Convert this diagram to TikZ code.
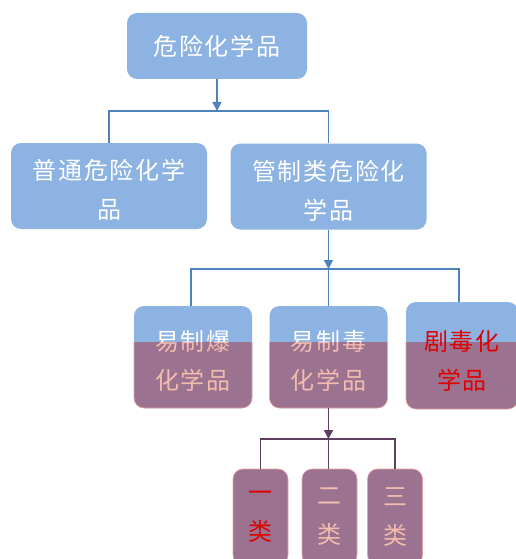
\documentclass[tikz,border=0pt]{standalone}
\usepackage{fontspec}
\newfontfamily\cjk{Noto Sans CJK SC}
\usetikzlibrary{arrows.meta,calc}
\definecolor{bfill}{HTML}{8DB3E2}
\definecolor{bline}{HTML}{4F81BD}
\definecolor{pfill}{HTML}{9B7391}
\definecolor{pline}{HTML}{5E3F60}
\definecolor{ptext}{HTML}{F4BCAE}
\definecolor{redt}{HTML}{E00000}
\definecolor{pborder}{HTML}{E8A0A0}
\begin{document}
\begin{tikzpicture}[x=1pt,y=-1pt,
  box/.style={rounded corners=10pt, fill=bfill, draw=none, inner sep=0pt},
  pbox/.style={rounded corners=10pt, fill=pfill, draw=pborder, line width=0.6pt, inner sep=0pt},
  lbl/.style={font=\cjk\fontsize{24}{39}\selectfont\addfontfeature{LetterSpace=7}, align=center, text=white, inner sep=0pt},
  wide/.style={minimum width=196pt, minimum height=86pt},
  mid/.style={minimum width=118pt, minimum height=102pt},
  midc/.style={minimum width=112pt, minimum height=107pt},
  small/.style={minimum width=55pt, minimum height=96pt},
  bl/.style={draw=bline, line width=1.5pt},
  pl/.style={draw=pline, line width=1.5pt},
  tip/.style={-{Triangle[width=9pt,length=9pt]}}
]
\useasboundingbox (0,0) rectangle (516,559);
\clip (0,0) rectangle (516,559);

% top level
\node[box, minimum width=180pt, minimum height=66pt] (top) at (217,46) {};
\node[lbl] (ttop) at (top.center) {危险化学品};

% second level
\node[box, wide] (L) at (109,186) {};
\node[lbl] (tL) at ($(L.center)+(0,4)$) {普通危险化学\\品};
\node[box, wide] (R) at (328.5,186.5) {};
\node[lbl] (tR) at ($(R.center)+(0,4)$) {管制类危险化\\学品};

% third level (blue part)
\node[box, mid] (A) at (193,357) {};
\node[box, mid] (B) at (328.5,357) {};
\node[box, midc] (C) at (462,355.5) {};
\node[lbl] (tA) at ($(A.center)+(0,4)$) {易制爆\\化学品};
\node[lbl] (tB) at ($(B.center)+(0,4)$) {易制毒\\化学品};
\node[lbl, text=redt] (tC) at ($(C.center)+(0,5)$) {剧毒化\\学品};

% third level (purple part)
\begin{scope}
  \clip (0,342) rectangle (520,600);
  \node[pbox, mid] (Ap) at (A) {};
  \node[pbox, mid] (Bp) at (B) {};
  \node[pbox, midc] (Cp) at (C) {};
  \node[lbl, text=ptext] (tAp) at (tA) {易制爆\\化学品};
  \node[lbl, text=ptext] (tBp) at (tB) {易制毒\\化学品};
  \node[lbl, text=redt] (tCp) at (tC) {剧毒化\\学品};
\end{scope}

% fourth level
\node[pbox, small] (D) at (260.5,517) {};
\node[pbox, small] (E) at (329.5,517) {};
\node[pbox, small] (F) at (395,517) {};
\node[lbl, text=redt] (tD) at (D.center) {一\\类};
\node[lbl, text=ptext] (tE) at (E.center) {二\\类};
\node[lbl, text=ptext] (tF) at (F.center) {三\\类};

% connectors level 1 -> 2
\coordinate (j1) at (217,111);
\draw[bl, tip] (top.south) -- (j1);
\draw[bl] (L.north) -- (L.north |- j1) -- (R.north |- j1) -- (R.north);

% connectors level 2 -> 3
\coordinate (j2) at (328.5,269);
\coordinate (cC) at ([xshift=-3pt]C.north);
\draw[bl, tip] (R.south) -- (j2);
\draw[bl] ([xshift=-2pt]A.north) -- ([xshift=-2pt]A.north |- j2) -- (cC |- j2) -- (cC);
\draw[bl] (j2) -- (B.north);

% connectors level 3 -> 4
\coordinate (j3) at (328.5,439);
\draw[pl, tip] (B.south) -- (j3);
\draw[pl] (D.north) -- (D.north |- j3) -- (F.north |- j3) -- (F.north);
\draw[pl] (j3) -- (E.north -| j3);
\end{tikzpicture}
\end{document}
